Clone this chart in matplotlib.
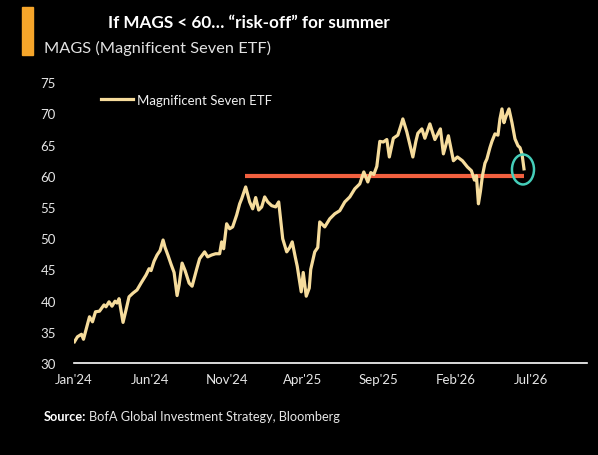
import matplotlib
matplotlib.use("Agg")
import matplotlib.pyplot as plt
import matplotlib.dates as mdates
from matplotlib.patches import Ellipse, Rectangle
import pandas as pd

plt.rcParams['font.family'] = ['Lato', 'DejaVu Sans']

# MAGS price
dates = ["2024-01-02", "2024-01-08", "2024-01-16", "2024-01-20", "2024-01-28", "2024-02-01",
         "2024-02-07", "2024-02-13", "2024-02-21", "2024-03-01", "2024-03-05", "2024-03-11",
         "2024-03-17", "2024-03-23", "2024-03-27", "2024-03-31", "2024-04-08", "2024-04-14",
         "2024-04-20", "2024-04-28", "2024-05-06", "2024-05-14", "2024-05-24", "2024-05-30",
         "2024-06-03", "2024-06-09", "2024-06-15", "2024-06-21", "2024-06-27", "2024-07-01",
         "2024-07-07", "2024-07-13", "2024-07-19", "2024-07-25", "2024-07-29", "2024-08-04",
         "2024-08-10", "2024-08-18", "2024-08-24", "2024-09-02", "2024-09-08", "2024-09-18",
         "2024-09-24", "2024-10-02", "2024-10-10", "2024-10-18", "2024-10-22", "2024-10-26",
         "2024-11-01", "2024-11-07", "2024-11-13", "2024-11-21", "2024-11-27", "2024-12-01",
         "2024-12-09", "2024-12-13", "2024-12-17", "2024-12-23", "2024-12-29", "2025-01-04",
         "2025-01-10", "2025-01-16", "2025-01-22", "2025-01-30", "2025-02-07", "2025-02-13",
         "2025-02-21", "2025-03-01", "2025-03-07", "2025-03-12", "2025-03-18", "2025-03-22",
         "2025-03-30", "2025-04-03", "2025-04-09", "2025-04-15", "2025-04-18", "2025-04-26",
         "2025-05-02", "2025-05-06", "2025-05-16", "2025-05-26", "2025-06-05", "2025-06-15",
         "2025-06-25", "2025-07-05", "2025-07-15", "2025-07-25", "2025-08-02", "2025-08-10",
         "2025-08-16", "2025-08-22", "2025-08-28", "2025-09-03", "2025-09-10", "2025-09-17",
         "2025-09-22", "2025-09-30", "2025-10-09", "2025-10-15", "2025-10-19", "2025-10-27",
         "2025-11-02", "2025-11-08", "2025-11-14", "2025-11-18", "2025-11-26", "2025-12-02",
         "2025-12-12", "2025-12-22", "2026-01-02", "2026-01-08", "2026-01-18", "2026-01-28",
         "2026-02-05", "2026-02-15", "2026-02-25", "2026-03-05", "2026-03-11", "2026-03-15",
         "2026-03-19", "2026-03-23", "2026-03-27", "2026-04-01", "2026-04-05", "2026-04-11",
         "2026-04-15", "2026-04-21", "2026-04-27", "2026-05-01", "2026-05-05", "2026-05-09",
         "2026-05-13", "2026-05-19", "2026-05-25", "2026-05-31", "2026-06-06", "2026-06-10",
         "2026-06-14", "2026-06-18"]
mags = [33.4, 34.2, 34.6, 33.8, 36.2, 37.4,
        36.6, 38.2, 38.3, 39.3, 39.0, 39.8,
        39.1, 39.9, 39.6, 40.3, 36.5, 38.5,
        40.6, 41.2, 41.7, 42.8, 44.1, 45.1,
        44.8, 46.3, 47.3, 48.0, 49.7, 48.5,
        47.2, 45.8, 44.5, 40.8, 42.5, 46.0,
        44.8, 42.8, 42.3, 45.0, 46.7, 47.8,
        47.0, 47.3, 47.5, 47.5, 49.4, 48.3,
        52.3, 51.5, 51.8, 53.7, 55.5, 56.3,
        58.2, 57.0, 55.8, 54.7, 56.5, 54.5,
        55.0, 56.6, 55.8, 55.2, 55.0, 55.8,
        49.9, 47.8, 48.5, 49.4, 47.0, 45.5,
        41.4, 44.5, 40.7, 42.0, 45.0, 47.8,
        48.5, 52.6, 51.8, 53.1, 53.9, 54.4,
        55.8, 56.6, 57.9, 58.7, 60.6, 59.0,
        60.5, 60.2, 61.5, 65.5, 65.4, 65.8,
        63.0, 66.0, 66.5, 68.0, 69.1, 67.0,
        65.0, 63.0, 65.5, 66.8, 67.5, 66.0,
        68.3, 65.8, 67.5, 63.5, 66.4, 62.4,
        63.0, 62.4, 61.4, 60.8, 59.3, 60.0,
        55.5, 57.5, 60.0, 62.0, 62.7, 64.5,
        65.5, 66.7, 66.5, 69.1, 70.7, 68.5,
        69.5, 70.7, 68.5, 65.9, 64.8, 64.5,
        63.5, 61.1]

threshold = 60
threshold_start = "2024-12-07"
threshold_end = "2026-06-18"
circle_date = "2026-06-16"
circle_value = 61.0

xticks = ["2024-01-01", "2024-06-01", "2024-11-01", "2025-04-01", "2025-09-01", "2026-02-01", "2026-07-01"]
yticks = [30, 35, 40, 45, 50, 55, 60, 65, 70, 75]

dates = pd.to_datetime(dates)
xticks = pd.to_datetime(xticks)

fig = plt.figure(figsize=(5.98, 4.56), dpi=100, facecolor="black")
ax = fig.add_axes([0.1237, 0.2018, 0.858, 0.616])
ax.set_facecolor("black")

ax.plot(dates, mags, color="#f6dc9c", lw=2.3, label="Magnificent Seven ETF", zorder=3)
ax.plot(pd.to_datetime([threshold_start, threshold_end]), [threshold, threshold],
        color="#f2603f", lw=3.0, solid_capstyle="butt", zorder=2)

cx = mdates.date2num(pd.Timestamp(circle_date))
ax.add_patch(Ellipse((cx, circle_value), 44, 4.8, fill=False, ec="#45cdb9", lw=1.8, zorder=4))

ax.set_xlim(pd.Timestamp("2024-01-01"), pd.Timestamp("2026-10-22"))
ax.set_ylim(30, 75)
ax.set_xticks(xticks)
ax.xaxis.set_major_formatter(mdates.DateFormatter("%b'%y"))
ax.set_yticks(yticks)
ax.tick_params(axis="both", length=0, colors="#e6e6e6", labelsize=9.5)
ax.tick_params(axis="y", pad=13)
ax.tick_params(axis="x", pad=7)
for s in ["top", "right", "left"]:
    ax.spines[s].set_visible(False)
ax.spines["bottom"].set_color("white")
ax.spines["bottom"].set_linewidth(1.2)

leg = ax.legend(loc="upper left", bbox_to_anchor=(0.03, 1.0), frameon=False, fontsize=9.5,
                handlelength=2.4, handletextpad=0.3, labelcolor="#f0f0f0")

# header
fig.patches.append(Rectangle((22 / 598, 1 - 56 / 456), 11 / 598, 48 / 456,
                             transform=fig.transFigure, color="#f5a52a"))
fig.text(108 / 598, 1 - 28 / 456, "If MAGS < 60… \u201crisk-off\u201d for summer",
         color="white", fontsize=12.3, fontweight="bold")
fig.text(44 / 598, 1 - 53 / 456, "MAGS (Magnificent Seven ETF)",
         color="#e2e2e2", fontsize=11.8)

# source line
src = fig.text(44 / 598, 1 - 421 / 456, "Source:", color="white", fontsize=9.2,
               fontweight="bold")
fig.canvas.draw()
bb = src.get_window_extent().transformed(fig.transFigure.inverted())
fig.text(bb.x1 + 3 / 598, 1 - 421 / 456, "BofA Global Investment Strategy, Bloomberg",
         color="#e6e6e6", fontsize=9.2)

fig.savefig("out.png", dpi=100, facecolor="black")
